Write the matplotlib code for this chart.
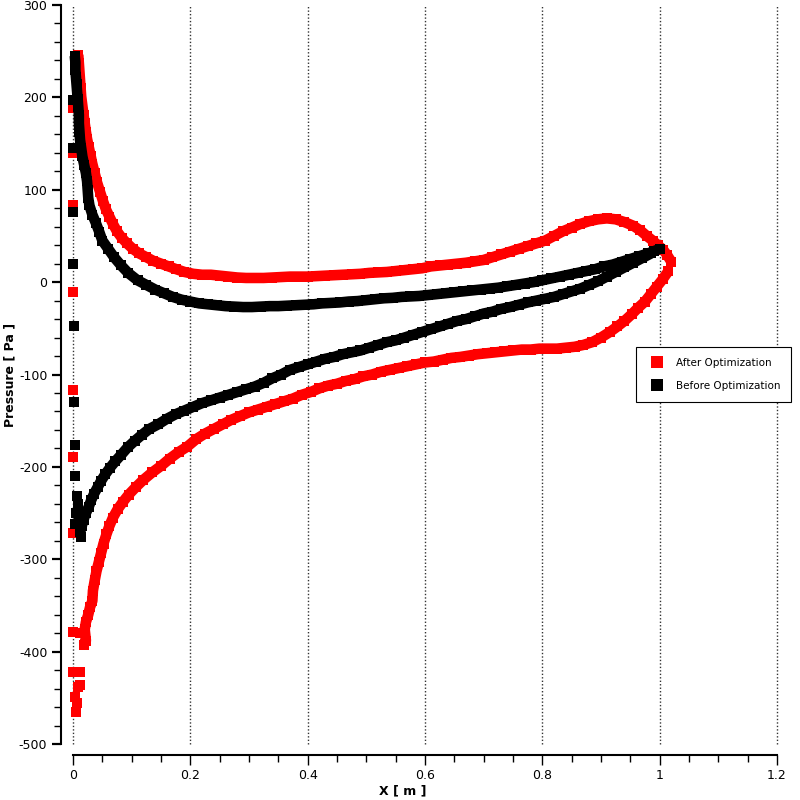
"""
Surface pressure along the chord, before and after optimization.
"""
import matplotlib
matplotlib.use("Agg")
import matplotlib.pyplot as plt
from matplotlib.lines import Line2D
from matplotlib.ticker import MultipleLocator, FuncFormatter

# ---- data (X in m, pressure in Pa) ----
after_upper_x = [0.009, 0.010, 0.011, 0.012, 0.013, 0.014, 0.016, 0.018, 0.020, 0.022, 0.024,
                 0.027, 0.030, 0.033, 0.037, 0.041, 0.046, 0.051, 0.056, 0.062, 0.068, 0.075,
                 0.083, 0.092, 0.102, 0.113, 0.125, 0.137, 0.150, 0.163, 0.176, 0.190, 0.205,
                 0.220, 0.235, 0.250, 0.265, 0.280, 0.295, 0.310, 0.325, 0.340, 0.355,
                 0.370, 0.385, 0.400, 0.415, 0.430, 0.445, 0.460, 0.475, 0.490, 0.505,
                 0.520, 0.535, 0.550, 0.565, 0.580, 0.595, 0.610, 0.625, 0.640, 0.655,
                 0.670, 0.685, 0.700, 0.715, 0.730, 0.745, 0.760, 0.775, 0.790, 0.805,
                 0.820, 0.835, 0.850, 0.865, 0.880, 0.895, 0.910, 0.925, 0.940, 0.955,
                 0.967, 0.978, 0.988, 0.997, 1.006, 1.013, 1.020]
after_upper_p = [246, 237, 228, 219, 210, 201, 191, 181, 172, 163, 155,
                 146, 137, 128, 118, 108, 98, 88, 79, 71, 63, 55,
                 48, 42, 36, 31, 27, 23, 20, 17, 14, 11, 9,
                 8, 8, 7, 6, 5, 4.5, 4.5, 4.5, 5, 5.5,
                 6, 6, 6, 6.5, 7, 7.5, 8, 8.5, 9, 10,
                 10.5, 11, 12, 13, 14, 15, 17, 18, 19, 20,
                 21, 22.5, 24, 27, 30, 33, 36, 39, 42, 45,
                 50, 55, 59, 63, 66, 68, 69, 68, 65, 61,
                 56, 50, 45, 40, 35, 29, 22]

after_lower_x = [1.015, 1.005, 0.995, 0.985, 0.975, 0.963, 0.952, 0.940, 0.928, 0.915,
                 0.900, 0.885, 0.870, 0.855, 0.840, 0.825, 0.810, 0.795, 0.780, 0.765,
                 0.750, 0.735, 0.720, 0.705, 0.690, 0.675, 0.660, 0.645, 0.630, 0.615,
                 0.600, 0.585, 0.570, 0.555, 0.540, 0.525, 0.510, 0.495, 0.480, 0.465,
                 0.450, 0.435, 0.420, 0.405, 0.390, 0.375, 0.360, 0.345, 0.330, 0.315,
                 0.300, 0.285, 0.270, 0.255, 0.240, 0.225, 0.210, 0.195, 0.180, 0.165,
                 0.150, 0.135, 0.120, 0.107, 0.095, 0.085, 0.076, 0.068, 0.062, 0.057,
                 0.052, 0.048, 0.044, 0.040, 0.037, 0.034, 0.033, 0.029, 0.026, 0.022,
                 0.020, 0.022, 0.018]
after_lower_p = [12, 3, -5, -13, -21, -28, -35, -42, -48, -54,
                 -60, -65, -68, -70, -71, -72, -72, -72, -73, -73,
                 -74, -75, -76, -77, -78, -79.5, -81, -82, -84, -86,
                 -87, -89, -91, -93, -95, -97, -100, -102, -105, -107,
                 -110, -112, -115, -119, -122, -126, -129, -132, -135, -138,
                 -141, -145, -149, -154, -159, -164, -170, -178, -184, -191,
                 -199, -206, -214, -222, -230, -238, -246, -255, -264, -273,
                 -283, -293, -303, -313, -323, -334, -345, -352, -360, -368,
                 -376, -388, -393]

# loose nodes near the leading edge (drawn as single squares)
after_le_x = [0.0, 0.0, 0.0, 0.0, 0.0, 0.0, 0.0, 0.0, 0.0, 0.006,
              0.012, 0.012, 0.012, 0.009, 0.004, 0.005]
after_le_p = [188, 140, 83, -11, -117, -189, -272, -379, -422, -456,
              -380, -422, -436, -438, -449, -465]

before_upper_x = [0.003, 0.004, 0.004, 0.005, 0.006, 0.007, 0.008, 0.009, 0.010, 0.010,
                  0.011, 0.012, 0.014, 0.016, 0.019, 0.022, 0.024, 0.025, 0.026, 0.028,
                  0.033, 0.039, 0.045, 0.050, 0.060, 0.070, 0.082, 0.094, 0.110, 0.125,
                  0.140, 0.155, 0.170, 0.185,
                  0.200, 0.215, 0.230, 0.245, 0.260, 0.275, 0.290, 0.305, 0.320, 0.335,
                  0.350, 0.365, 0.380, 0.395, 0.410, 0.425, 0.440, 0.455, 0.470, 0.485,
                  0.500, 0.515, 0.530, 0.545, 0.560, 0.575, 0.590, 0.605, 0.620, 0.635,
                  0.650, 0.665, 0.680, 0.695, 0.710, 0.725, 0.740, 0.755, 0.770, 0.785,
                  0.800, 0.815, 0.830, 0.845, 0.860, 0.875, 0.890, 0.905, 0.920, 0.935,
                  0.950, 0.965, 0.980, 0.990, 1.000]
before_upper_p = [245, 238, 230, 222, 214, 206, 198, 190, 181, 172,
                  163, 154, 145, 136, 127, 118, 109, 100, 91, 83,
                  73, 64, 54, 45, 36, 27, 18, 10, 2, -3,
                  -8, -12, -16, -19,
                  -21, -23, -24, -25, -26, -26.5, -27, -27, -26.5, -26,
                  -26, -25.5, -25, -24.5, -24, -23, -22.5, -22, -21, -20.5,
                  -19.5, -18.5, -17.5, -17, -16, -15.5, -15, -14, -13, -12,
                  -11, -10, -9, -8, -7, -6, -4.5, -3, -1.5, 0,
                  2, 4, 6, 8, 10, 12, 14, 17, 19, 22,
                  25, 28, 31, 33.5, 36]

before_lower_x = [0.985, 0.970, 0.955, 0.940, 0.925, 0.910, 0.895, 0.880, 0.865, 0.850,
                  0.835, 0.820, 0.805, 0.790, 0.775, 0.760, 0.745, 0.730, 0.715, 0.700,
                  0.685, 0.670, 0.655, 0.640, 0.625, 0.610, 0.595, 0.580, 0.565, 0.550,
                  0.535, 0.520, 0.505, 0.490, 0.475, 0.460, 0.445, 0.430, 0.415, 0.400,
                  0.385, 0.370, 0.355, 0.340, 0.325, 0.310, 0.295, 0.280, 0.265, 0.250,
                  0.235, 0.220, 0.205, 0.190, 0.175, 0.160, 0.145, 0.130,
                  0.118, 0.105, 0.093, 0.082, 0.072, 0.063, 0.055, 0.048, 0.042, 0.036,
                  0.031, 0.027, 0.022, 0.018, 0.015, 0.012]
before_lower_p = [31, 26, 21, 16, 11, 6, 1, -3, -7, -10,
                  -13, -16, -18, -20, -22, -24.5, -27, -29, -32, -34,
                  -37, -40, -42, -45, -48, -51, -54, -57, -60, -63,
                  -65, -68, -71, -74, -76, -78, -81, -83, -86, -89,
                  -92, -95, -100, -104, -109, -113, -116, -119, -122, -125,
                  -128, -131, -135, -139, -143, -148, -154, -159,
                  -165, -172, -179, -187, -194, -201, -208, -215, -222, -229,
                  -236, -243, -250, -257, -264, -271]

before_le_x = [0.0, 0.0, 0.0, 0.0, 0.002, 0.002, 0.003, 0.003,
               0.008, 0.005, 0.010, 0.006, 0.004, 0.013]
before_le_p = [197, 145, 76, 20, -48, -130, -176, -210,
               -240, -250, -260, -232, -262, -276]

x_ticks = [0.0, 0.2, 0.4, 0.6, 0.8, 1.0, 1.2]
y_ticks = [-500, -400, -300, -200, -100, 0, 100, 200, 300]

RED = '#ff0000'
BLACK = '#000000'

plt.rcParams['font.family'] = ['DejaVu Sans']
plt.rcParams['axes.unicode_minus'] = False

fig = plt.figure(figsize=(8, 8), dpi=100)
ax = fig.add_axes([0.09125, 0.07, 0.88, 0.92375])

ms = 7.4   # square node size (pt)
band = 7.6  # width of the band that joins neighbouring nodes (pt)


def draw_surface(xs, ps, color, z):
    ax.plot(xs, ps, '-', lw=band, color=color, solid_joinstyle='round',
            solid_capstyle='butt', clip_on=False, zorder=z)
    ax.plot(xs, ps, 's', ms=ms, mew=0, color=color, clip_on=False, zorder=z)


draw_surface(after_upper_x, after_upper_p, RED, 3)
draw_surface(after_lower_x, after_lower_p, RED, 3)
ax.plot(after_le_x, after_le_p, 's', ms=ms, mew=0, color=RED, clip_on=False, zorder=3)

draw_surface(before_upper_x, before_upper_p, BLACK, 4)
draw_surface(before_lower_x, before_lower_p, BLACK, 4)
ax.plot(before_le_x, before_le_p, 's', ms=ms, mew=0, color=BLACK, clip_on=False, zorder=4)

ax.set_xlim(0, 1.2)
ax.set_ylim(-500, 300)
ax.set_xticks(x_ticks)
ax.set_yticks(y_ticks)
ax.xaxis.set_minor_locator(MultipleLocator(0.05))
ax.yaxis.set_minor_locator(MultipleLocator(20))
ax.xaxis.set_major_formatter(FuncFormatter(lambda v, pos: '%g' % round(v, 2)))

for side in ['top', 'right']:
    ax.spines[side].set_visible(False)
ax.spines['left'].set_position(('outward', 9))
ax.spines['bottom'].set_position(('outward', 8))
ax.spines['left'].set_bounds(-500, 300)
ax.spines['bottom'].set_bounds(0, 1.2)
ax.spines['left'].set_linewidth(1.5)
ax.spines['bottom'].set_linewidth(1.5)

ax.tick_params(axis='y', which='major', length=6.5, width=1.6, labelsize=9, pad=3)
ax.tick_params(axis='y', which='minor', length=5, width=1)
ax.tick_params(axis='x', which='major', length=7, width=1, labelsize=9, pad=3)
ax.tick_params(axis='x', which='minor', length=5, width=1)

ax.grid(axis='x', which='major', linestyle=(0, (1, 1.5)), color='#333333', linewidth=1)
for gl in ax.get_xgridlines():
    gl.set_clip_on(False)

ax.set_xlabel('X [ m ]', fontsize=9, fontweight='bold')
ax.set_ylabel('Pressure [ Pa ]', fontsize=9, fontweight='bold')
ax.xaxis.set_label_coords(0.468, -0.055)
ax.yaxis.set_label_coords(-0.08, 0.5)

handles = [Line2D([], [], ls='none', marker='s', ms=8, mew=0, color=RED),
           Line2D([], [], ls='none', marker='s', ms=8, mew=0, color=BLACK)]
leg = ax.legend(handles, ['After Optimization', 'Before Optimization'],
                loc='upper left', bbox_to_anchor=(0.80, 0.537), borderaxespad=0,
                fontsize=7.5, fancybox=False, framealpha=1, edgecolor='black',
                borderpad=1.0, labelspacing=1.3, handlelength=2.0, handletextpad=0.85)
leg.get_frame().set_linewidth(0.8)

fig.savefig('out.png', dpi=100, facecolor='white')
